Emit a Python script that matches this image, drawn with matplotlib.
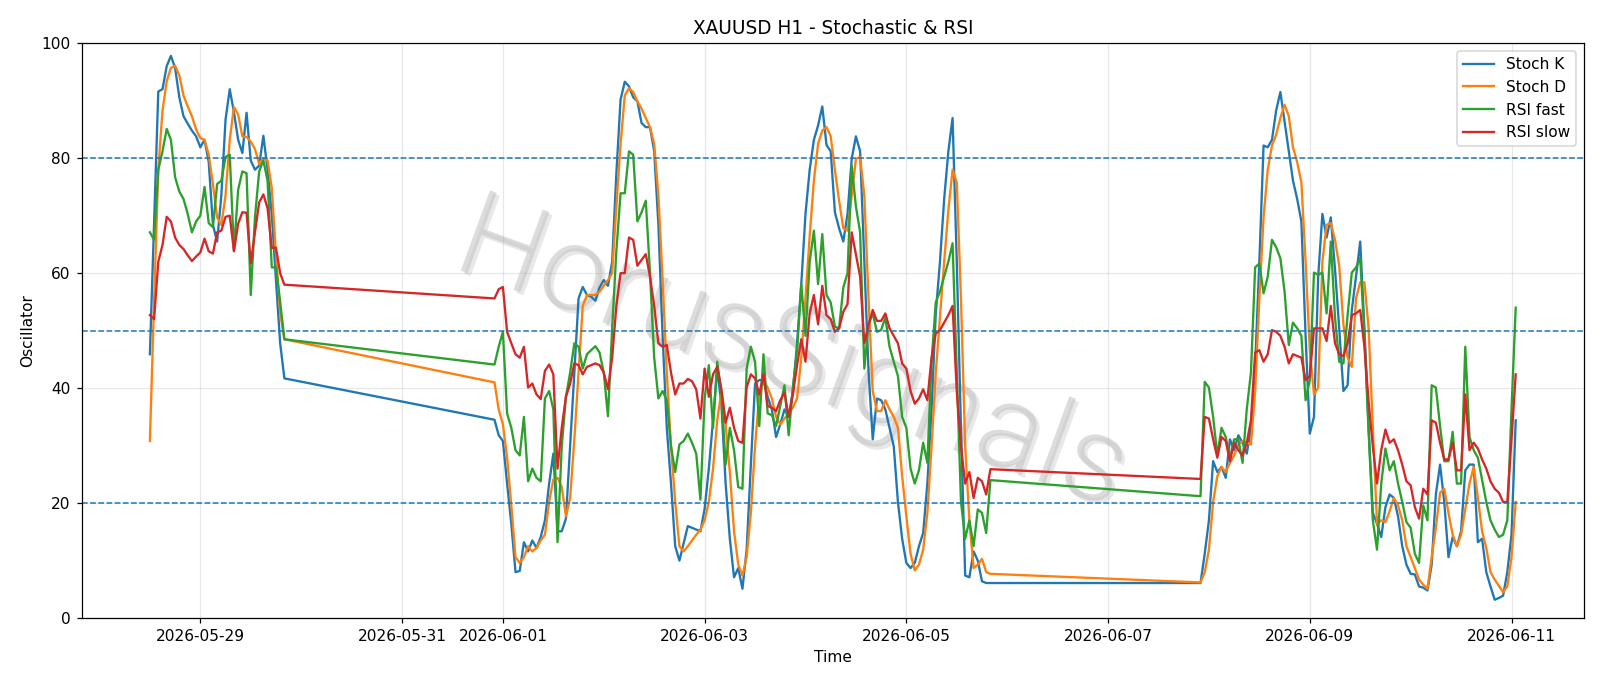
# Stochastic e RSI do XAUUSD em H1, com marca d'água
import matplotlib

matplotlib.use("Agg")
import matplotlib.patheffects as pe
import matplotlib.pyplot as plt
import pandas as pd
from matplotlib import font_manager

# Sessões de negociação (fecha sexta 20:00, reabre domingo 22:00)
session_starts = ["2026-05-28 12:00", "2026-05-31 22:00", "2026-06-07 22:00"]
session_ends = ["2026-05-29 20:00", "2026-06-05 20:00", "2026-06-11 01:00"]

stoch_k = [
    # 28/05 - 29/05
    45.9, 69.0, 91.6, 92.0, 96.0, 97.8, 95.7, 90.6, 87.3, 86.0, 84.8, 83.8,
    81.9, 83.2, 79.3, 68.4, 65.5, 73.5, 86.7, 92.0, 88.0, 83.2, 80.9, 87.9,
    79.6, 78.0, 78.7, 83.9, 78.0, 70.3, 58.8, 47.8, 41.7,
    # 31/05 - 05/06
    34.5, 31.8, 30.8, 23.4, 16.4, 8.0, 8.2, 13.2, 11.6, 13.5, 12.2, 14.1,
    17.0, 23.4, 28.6, 15.1, 15.1, 17.3, 29.9, 42.7, 55.6, 57.6, 56.2, 55.9,
    55.2, 57.5, 58.8, 57.8, 62.0, 77.4, 90.2, 93.3, 92.5, 90.6, 89.9, 86.1,
    85.4, 85.4, 81.2, 68.4, 49.1, 33.1, 23.4, 12.5, 10.0,
    13.0, 16.0, 15.7, 15.4, 15.1, 19.0, 26.0, 34.4, 43.4, 37.0, 23.4, 13.8,
    7.1, 8.7, 5.1, 11.9, 26.7, 40.8, 41.4, 41.4, 38.5, 36.3, 31.5, 33.7,
    36.3, 35.0, 39.5, 47.8, 58.1, 70.3, 78.0, 83.2, 85.7, 89.0, 82.3, 81.2,
    70.6, 67.8, 65.5, 70.3, 79.9, 83.8, 81.2,
    62.0, 43.0, 31.1, 38.2, 37.9, 36.3, 33.1, 29.9, 20.2, 13.8, 9.6, 8.7,
    9.6, 12.5, 14.8, 23.4, 36.3, 53.0, 62.0, 72.9, 81.2, 87.0, 62.0, 33.0,
    7.4, 7.1, 11.6, 10.0, 6.4, 6.1, 6.1,
    # 07/06 - 11/06
    6.1,
    11.2, 17.0, 27.3, 25.4, 26.3, 24.4, 31.1, 29.2, 31.8, 30.5, 28.6, 33.1,
    44.0, 62.0, 82.2, 81.9, 83.2, 88.3, 91.5, 86.4, 81.2, 76.1, 72.9, 69.0,
    49.1, 32.1, 35.0, 59.4, 70.3, 66.2, 69.7, 60.7, 50.4, 39.5, 40.5, 53.6,
    59.4, 65.5, 50.4, 33.1, 18.3, 16.4, 14.1,
    19.3, 21.5, 20.9, 17.7, 12.5, 9.3, 7.7, 7.6, 5.5, 5.3, 4.8, 9.3,
    21.5, 26.7, 20.2, 10.6, 14.1, 12.5, 15.1, 25.7, 26.7, 26.7, 13.2, 13.8,
    8.0, 5.5, 3.2, 3.5, 3.9, 8.0, 14.5, 34.4,
]

stoch_d = [
    30.8, 55.0, 78.0, 88.3, 93.4, 95.7, 96.1, 94.4, 90.9, 89.0, 87.3, 85.0,
    83.5, 83.2, 80.6, 75.5, 69.7, 68.4, 73.5, 83.2, 88.9, 87.6, 83.8, 83.7,
    82.9, 81.6, 79.0, 80.0, 79.6, 74.8, 63.3, 53.0, 48.5,
    41.0, 36.3, 33.7, 27.9, 19.6, 10.6, 9.6, 10.6, 12.5, 11.6, 12.2, 13.5,
    14.5, 20.2, 24.1, 24.4, 22.8, 17.7, 20.9, 31.1, 42.7, 54.3, 56.2, 56.2,
    56.2, 56.8, 57.8, 58.8, 60.0, 71.6, 82.5, 90.9, 92.2, 91.5, 89.9, 88.6,
    87.0, 85.4, 82.5, 73.5, 58.8, 42.7, 29.9, 20.2, 12.5,
    11.6, 12.5, 13.5, 14.5, 15.4, 17.0, 20.2, 26.0, 34.4, 39.5, 33.7, 25.4,
    15.1, 9.3, 7.4, 10.6, 18.3, 29.9, 38.9, 41.4, 40.1, 38.2, 35.0, 33.7,
    34.7, 35.6, 36.6, 38.2, 45.3, 55.6, 66.5, 76.1, 82.5, 84.8, 85.4, 83.8,
    78.0, 72.6, 67.8, 67.4, 73.5, 79.9, 80.2,
    73.5, 55.6, 39.5, 36.0, 36.0, 37.9, 36.3, 35.0, 33.1, 24.7, 17.7, 11.2,
    8.3, 9.3, 11.9, 18.3, 29.9, 42.7, 52.3, 62.0, 71.0, 78.0, 75.8, 55.6,
    29.9, 17.0, 8.7, 9.3, 10.3, 8.0, 7.7,
    6.2,
    8.0, 11.9, 20.2, 24.7, 26.3, 25.4, 27.0, 28.3, 30.2, 30.8, 30.5, 30.2,
    39.5, 55.6, 69.7, 78.0, 82.2, 84.1, 87.0, 89.3, 87.3, 81.9, 79.3, 75.8,
    62.0, 46.6, 38.9, 40.1, 62.0, 68.4, 68.7, 65.8, 61.3, 51.1, 45.3, 43.7,
    55.6, 58.4, 58.4, 50.4, 33.1, 16.4, 17.0,
    16.7, 18.6, 20.9, 19.6, 17.0, 12.5, 10.6, 8.7, 6.7, 5.8, 5.1, 10.6,
    15.7, 21.8, 22.5, 18.3, 14.5, 12.5, 14.5, 18.9, 23.4, 26.3, 20.9, 15.1,
    12.2, 8.0, 6.7, 5.6, 4.5, 5.5, 10.6, 20.2,
]

rsi_fast = [
    67.1, 65.8, 78.0, 81.2, 85.1, 83.2, 76.7, 74.2, 72.9, 70.3, 67.1, 69.0,
    70.0, 75.0, 68.7, 68.0, 75.5, 76.1, 80.2, 80.6, 63.9, 74.5, 77.7, 77.4,
    56.2, 69.7, 77.7, 79.6, 76.1, 61.0, 61.0, 55.0, 48.5,
    44.1, 47.2, 49.8, 35.6, 33.1, 29.2, 28.3, 35.0, 23.8, 26.0, 24.4, 23.8,
    38.2, 39.5, 36.3, 13.2, 29.9, 38.5, 42.7, 47.8, 47.2, 43.4, 45.9, 46.6,
    47.3, 46.2, 42.7, 35.1, 50.4, 63.9, 73.9, 73.9, 81.2, 80.6, 69.0, 70.6,
    72.6, 60.1, 45.3, 38.2, 39.5, 37.9, 29.9, 25.4, 30.2,
    30.8, 32.1, 30.5, 28.6, 20.6, 38.2, 44.0, 33.1, 44.6, 38.9, 26.7, 33.1,
    29.2, 22.8, 22.5, 43.4, 47.2, 44.6, 33.4, 45.9, 35.6, 35.3, 33.4, 36.9,
    40.5, 31.8, 40.1, 46.6, 58.1, 49.1, 62.0, 67.4, 58.1, 66.8, 56.2, 54.9,
    50.7, 50.4, 57.5, 60.0, 78.7, 71.6, 67.1,
    43.4, 51.1, 53.0, 49.8, 50.1, 52.3, 47.2, 44.6, 42.1, 35.0, 33.1, 26.0,
    23.4, 25.7, 30.5, 27.0, 44.6, 54.9, 56.8, 59.4, 62.0, 65.2, 42.7, 20.2,
    13.8, 17.0, 12.5, 18.9, 18.3, 14.8, 24.0,
    21.2,
    41.1, 40.1, 35.0, 28.3, 33.1, 31.5, 27.9, 31.1, 31.1, 27.0, 36.3, 42.7,
    61.0, 61.7, 56.5, 59.4, 65.8, 64.5, 62.6, 56.8, 47.5, 51.4, 50.4, 49.1,
    37.9, 41.4, 60.1, 59.7, 60.1, 53.0, 65.5, 52.3, 44.6, 44.3, 52.7, 60.1,
    61.0, 62.6, 49.1, 32.4, 17.0, 11.9, 23.4,
    29.5, 25.7, 27.3, 23.4, 20.2, 16.7, 15.7, 11.2, 9.6, 19.6, 17.0, 40.5,
    40.1, 33.4, 27.3, 27.3, 32.4, 23.4, 23.4, 47.2, 31.5, 29.2, 27.9, 24.1,
    20.2, 17.0, 15.4, 14.1, 14.5, 17.0, 36.3, 54.0,
]

rsi_slow = [
    52.7, 52.0, 62.0, 64.9, 69.8, 69.0, 66.2, 64.9, 64.2, 63.1, 62.1, 62.9,
    63.6, 66.0, 63.8, 63.4, 67.1, 67.4, 69.8, 70.0, 63.8, 68.6, 70.6, 70.5,
    61.7, 67.1, 72.3, 73.7, 71.3, 64.4, 64.4, 60.0, 58.0,
    55.6, 57.2, 57.6, 49.8, 47.8, 45.9, 45.3, 47.2, 40.1, 40.8, 38.9, 38.1,
    43.0, 44.1, 42.4, 26.0, 33.1, 38.5, 40.8, 44.3, 44.0, 42.4, 43.7, 44.0,
    44.3, 44.0, 42.7, 39.8, 45.3, 54.3, 60.0, 60.0, 66.2, 65.8, 61.3, 62.3,
    63.3, 59.4, 54.3, 47.8, 47.2, 47.5, 42.7, 38.9, 40.8,
    40.8, 41.6, 41.2, 39.8, 34.7, 43.4, 38.5, 42.4, 43.7, 39.8, 34.0, 36.6,
    33.1, 30.8, 30.5, 40.1, 42.4, 41.7, 38.9, 42.4, 36.9, 36.6, 36.0, 37.9,
    39.2, 35.0, 38.9, 44.0, 48.5, 44.6, 53.0, 56.2, 51.1, 57.8, 52.7, 52.0,
    49.8, 50.4, 53.3, 54.6, 67.1, 63.3, 59.4,
    47.8, 51.0, 53.6, 51.7, 51.7, 53.0, 50.4, 49.1, 47.8, 44.3, 43.4, 39.5,
    37.3, 38.2, 39.8, 37.9, 45.3, 49.5, 50.1, 51.4, 52.7, 54.3, 39.5, 29.9,
    23.4, 25.4, 20.9, 24.4, 23.8, 21.5, 25.9,
    24.2,
    35.0, 34.7, 31.1, 27.9, 31.5, 30.8, 27.3, 30.5, 29.2, 28.3, 30.5, 34.4,
    46.2, 46.6, 44.6, 45.9, 50.1, 49.8, 49.1, 47.2, 44.3, 45.9, 45.6, 45.3,
    41.4, 42.1, 50.4, 50.4, 50.4, 48.2, 54.3, 47.8, 45.9, 45.6, 47.8, 52.7,
    53.0, 53.6, 47.2, 37.6, 29.9, 23.4, 29.2,
    32.8, 30.5, 31.1, 29.2, 26.7, 23.8, 23.1, 19.3, 17.3, 22.5, 21.5, 34.4,
    34.0, 30.5, 27.6, 27.6, 30.5, 25.7, 25.7, 38.9, 29.2, 30.5, 29.5, 27.6,
    26.0, 23.8, 22.5, 21.8, 20.2, 20.2, 31.1, 42.4,
]

series_labels = ["Stoch K", "Stoch D", "RSI fast", "RSI slow"]
levels = [80, 50, 20]


def build_index() -> pd.DatetimeIndex:
    """Junta as barras horárias de cada sessão (sem os fins de semana)."""
    parts = [pd.date_range(s, e, freq="h") for s, e in zip(session_starts, session_ends)]
    return parts[0].append(parts[1:])


def watermark_font(size: float) -> font_manager.FontProperties:
    """Procura uma fonte 'Light' para a marca d'água; cai para DejaVu se não houver."""
    for name in ("Roboto", "Lato", "Open Sans", "Inter"):
        prop = font_manager.FontProperties(family=name, weight=300, size=size)
        try:
            path = font_manager.findfont(prop, fallback_to_default=False)
        except ValueError:
            continue
        lowered = path.lower()
        if "light" in lowered and "extralight" not in lowered:
            return prop
    return font_manager.FontProperties(family="DejaVu Sans", weight="light", size=size * 0.9)


def render(output_path: str = "out.png") -> None:
    idx = build_index()
    df = pd.DataFrame(
        {
            "Stoch K": stoch_k,
            "Stoch D": stoch_d,
            "RSI fast": rsi_fast,
            "RSI slow": rsi_slow,
        },
        index=idx,
    )

    dpi = 111
    fig, ax = plt.subplots(figsize=(1600 / dpi, 686 / dpi), dpi=dpi)
    fig.subplots_adjust(left=0.051, right=0.99, top=0.937, bottom=0.099)

    for label in series_labels:
        ax.plot(df.index, df[label], label=label)

    for lvl in levels:
        ax.axhline(lvl, linestyle="--", linewidth=1)

    ax.set_ylim(0, 100)
    ax.set_title("XAUUSD H1 - Stochastic & RSI")
    ax.set_xlabel("Time")
    ax.set_ylabel("Oscillator")
    ax.grid(True, alpha=0.3)
    ax.legend(loc="upper right")

    # Marca d'água
    ax.text(
        0.473, 0.455, "HorusSignals",
        transform=ax.transAxes,
        fontproperties=watermark_font(78),
        color="#c6c6c6",
        alpha=0.6,
        rotation=-20,
        ha="center",
        va="center",
        zorder=0,
        path_effects=[pe.withSimplePatchShadow(offset=(2, -2), shadow_rgbFace="#9a9a9a", alpha=0.22)],
    )

    fig.savefig(output_path, dpi=dpi)
    plt.close(fig)


if __name__ == "__main__":
    render()
